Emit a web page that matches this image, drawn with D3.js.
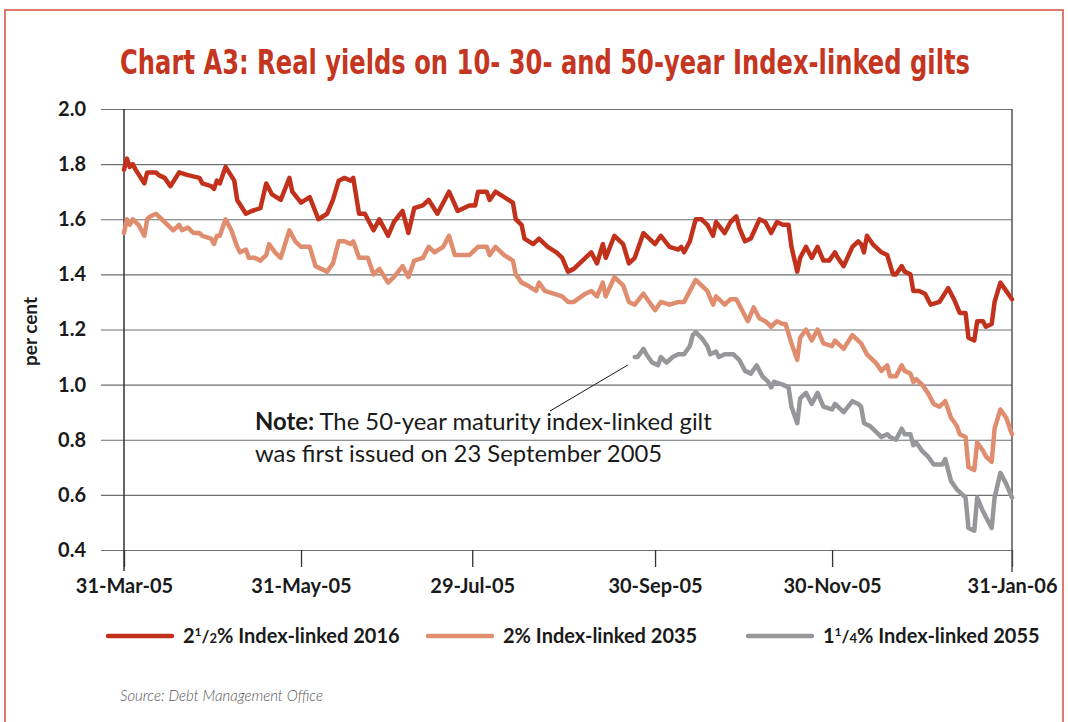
<!DOCTYPE html>
<html>
<head>
<meta charset="utf-8">
<script src="https://cdn.jsdelivr.net/npm/d3@7"></script>
<style>
    body { margin: 0; background: #fff; }
    svg text { font-family: Lato, "Open Sans", sans-serif; fill: #1a1a1a; }
</style>
</head>
<body>
<svg id="chart"></svg>
<script>
// 2 1/2% Index-linked 2016
const il2016Dates = ["2005-03-31","2005-04-01","2005-04-02","2005-04-03","2005-04-04","2005-04-07","2005-04-08","2005-04-11","2005-04-12","2005-04-14",
    "2005-04-16","2005-04-19","2005-04-22","2005-04-26","2005-04-27","2005-04-30","2005-05-01","2005-05-02","2005-05-03","2005-05-05",
    "2005-05-08","2005-05-09","2005-05-12","2005-05-14","2005-05-17","2005-05-19","2005-05-21","2005-05-24","2005-05-27","2005-05-28",
    "2005-05-31","2005-06-03","2005-06-06","2005-06-09","2005-06-11","2005-06-13","2005-06-15","2005-06-17","2005-06-18","2005-06-20",
    "2005-06-22","2005-06-25","2005-06-27","2005-06-30","2005-07-02","2005-07-05","2005-07-07","2005-07-09","2005-07-12","2005-07-14",
    "2005-07-17","2005-07-19","2005-07-21","2005-07-24","2005-07-26","2005-07-28","2005-07-30","2005-07-31","2005-08-03","2005-08-04",
    "2005-08-06","2005-08-09","2005-08-12","2005-08-13","2005-08-15","2005-08-16","2005-08-19","2005-08-21","2005-08-24","2005-08-27",
    "2005-08-29","2005-08-31","2005-09-02","2005-09-06","2005-09-08","2005-09-10","2005-09-12","2005-09-13","2005-09-16","2005-09-19",
    "2005-09-21","2005-09-23","2005-09-26","2005-09-28","2005-09-30","2005-10-02","2005-10-05","2005-10-08","2005-10-09","2005-10-10",
    "2005-10-12","2005-10-14","2005-10-16","2005-10-18","2005-10-20","2005-10-21","2005-10-24","2005-10-26","2005-10-28","2005-10-29",
    "2005-10-31","2005-11-02","2005-11-05","2005-11-07","2005-11-09","2005-11-11","2005-11-13","2005-11-15","2005-11-16","2005-11-18",
    "2005-11-19","2005-11-21","2005-11-23","2005-11-25","2005-11-27","2005-11-29","2005-12-01","2005-12-02","2005-12-04","2005-12-07",
    "2005-12-08","2005-12-09","2005-12-10","2005-12-11","2005-12-12","2005-12-14","2005-12-17","2005-12-19","2005-12-21","2005-12-22",
    "2005-12-24","2005-12-25","2005-12-27","2005-12-28","2005-12-30","2006-01-01","2006-01-03","2006-01-06","2006-01-09","2006-01-11",
    "2006-01-13","2006-01-15","2006-01-16","2006-01-18","2006-01-19","2006-01-21","2006-01-22","2006-01-24","2006-01-25","2006-01-27",
    "2006-01-29","2006-01-31"];
const il2016Yields = [1.78,1.82,1.79,1.80,1.78,1.73,1.77,1.77,1.76,1.75,
    1.72,1.77,1.76,1.75,1.73,1.72,1.71,1.74,1.73,1.79,
    1.74,1.67,1.62,1.63,1.64,1.73,1.69,1.67,1.75,1.70,
    1.66,1.68,1.60,1.62,1.67,1.74,1.75,1.74,1.75,1.62,
    1.62,1.56,1.60,1.54,1.59,1.63,1.55,1.64,1.65,1.67,
    1.62,1.66,1.70,1.63,1.64,1.65,1.65,1.70,1.70,1.67,
    1.70,1.68,1.66,1.60,1.58,1.53,1.51,1.53,1.50,1.48,
    1.46,1.41,1.42,1.46,1.48,1.44,1.51,1.46,1.54,1.51,
    1.44,1.46,1.55,1.53,1.51,1.54,1.50,1.49,1.50,1.48,
    1.52,1.60,1.60,1.58,1.54,1.59,1.55,1.59,1.61,1.57,
    1.52,1.53,1.60,1.59,1.55,1.59,1.58,1.58,1.50,1.41,
    1.46,1.50,1.46,1.50,1.45,1.45,1.48,1.46,1.43,1.50,
    1.51,1.52,1.51,1.48,1.54,1.51,1.48,1.47,1.40,1.40,
    1.43,1.41,1.40,1.34,1.34,1.33,1.29,1.30,1.35,1.31,
    1.26,1.26,1.17,1.16,1.23,1.23,1.21,1.22,1.30,1.37,
    1.34,1.31];

// 2% Index-linked 2035
const il2035Dates = ["2005-03-31","2005-04-01","2005-04-02","2005-04-03","2005-04-05","2005-04-07","2005-04-08","2005-04-09","2005-04-11","2005-04-13",
    "2005-04-15","2005-04-17","2005-04-19","2005-04-20","2005-04-22","2005-04-24","2005-04-26","2005-04-27","2005-04-30","2005-05-01",
    "2005-05-02","2005-05-03","2005-05-05","2005-05-07","2005-05-09","2005-05-10","2005-05-12","2005-05-13","2005-05-15","2005-05-17",
    "2005-05-19","2005-05-20","2005-05-22","2005-05-24","2005-05-27","2005-05-29","2005-05-31","2005-06-03","2005-06-05","2005-06-07",
    "2005-06-09","2005-06-11","2005-06-13","2005-06-15","2005-06-17","2005-06-18","2005-06-20","2005-06-23","2005-06-25","2005-06-27",
    "2005-06-30","2005-07-02","2005-07-05","2005-07-07","2005-07-09","2005-07-12","2005-07-14","2005-07-16","2005-07-19","2005-07-21",
    "2005-07-23","2005-07-26","2005-07-28","2005-07-31","2005-08-03","2005-08-04","2005-08-06","2005-08-09","2005-08-12","2005-08-13",
    "2005-08-15","2005-08-17","2005-08-20","2005-08-21","2005-08-23","2005-08-26","2005-08-29","2005-08-31","2005-09-02","2005-09-06",
    "2005-09-08","2005-09-10","2005-09-12","2005-09-13","2005-09-16","2005-09-19","2005-09-21","2005-09-23","2005-09-26","2005-09-28",
    "2005-09-30","2005-10-02","2005-10-05","2005-10-08","2005-10-10","2005-10-12","2005-10-14","2005-10-16","2005-10-18","2005-10-20",
    "2005-10-21","2005-10-24","2005-10-26","2005-10-28","2005-10-31","2005-11-01","2005-11-03","2005-11-05","2005-11-07","2005-11-09",
    "2005-11-11","2005-11-13","2005-11-14","2005-11-16","2005-11-18","2005-11-19","2005-11-21","2005-11-23","2005-11-25","2005-11-27",
    "2005-11-30","2005-12-01","2005-12-02","2005-12-04","2005-12-07","2005-12-09","2005-12-10","2005-12-12","2005-12-13","2005-12-15",
    "2005-12-17","2005-12-19","2005-12-20","2005-12-22","2005-12-24","2005-12-25","2005-12-27","2005-12-28","2005-12-29","2005-12-31",
    "2006-01-02","2006-01-04","2006-01-06","2006-01-08","2006-01-10","2006-01-12","2006-01-13","2006-01-15","2006-01-16","2006-01-18",
    "2006-01-19","2006-01-21","2006-01-22","2006-01-24","2006-01-25","2006-01-27","2006-01-29","2006-01-31"];
const il2035Yields = [1.55,1.60,1.58,1.60,1.58,1.54,1.60,1.61,1.62,1.60,
    1.58,1.56,1.58,1.56,1.57,1.55,1.55,1.54,1.53,1.51,
    1.54,1.54,1.60,1.56,1.50,1.48,1.49,1.46,1.46,1.45,
    1.47,1.51,1.48,1.46,1.56,1.52,1.50,1.50,1.43,1.42,
    1.41,1.44,1.52,1.52,1.51,1.52,1.46,1.46,1.40,1.42,
    1.37,1.39,1.43,1.39,1.45,1.46,1.50,1.48,1.50,1.54,
    1.47,1.47,1.47,1.50,1.50,1.47,1.50,1.47,1.45,1.40,
    1.37,1.36,1.34,1.37,1.34,1.33,1.32,1.30,1.30,1.33,
    1.34,1.32,1.37,1.32,1.39,1.36,1.30,1.29,1.33,1.30,
    1.27,1.30,1.29,1.30,1.30,1.34,1.38,1.36,1.34,1.29,
    1.32,1.29,1.31,1.31,1.25,1.23,1.28,1.24,1.23,1.21,
    1.23,1.22,1.22,1.15,1.09,1.17,1.20,1.16,1.20,1.15,
    1.14,1.16,1.15,1.13,1.18,1.16,1.15,1.11,1.10,1.08,
    1.05,1.07,1.03,1.03,1.07,1.05,1.04,1.01,1.02,1.00,
    0.97,0.93,0.92,0.94,0.88,0.85,0.82,0.81,0.70,0.69,
    0.79,0.76,0.74,0.72,0.84,0.91,0.88,0.82];

// 1 1/4% Index-linked 2055 (first issued 23 September 2005)
const il2055Dates = ["2005-09-23","2005-09-24","2005-09-26","2005-09-27","2005-09-29","2005-10-01","2005-10-02","2005-10-04","2005-10-06","2005-10-08",
    "2005-10-10","2005-10-12","2005-10-13","2005-10-14","2005-10-16","2005-10-18","2005-10-19","2005-10-21","2005-10-22","2005-10-24",
    "2005-10-27","2005-10-29","2005-10-31","2005-11-02","2005-11-04","2005-11-06","2005-11-08","2005-11-09","2005-11-10","2005-11-13",
    "2005-11-15","2005-11-16","2005-11-18","2005-11-19","2005-11-21","2005-11-23","2005-11-25","2005-11-27","2005-11-30","2005-12-01",
    "2005-12-02","2005-12-04","2005-12-07","2005-12-09","2005-12-10","2005-12-11","2005-12-13","2005-12-15","2005-12-17","2005-12-19",
    "2005-12-20","2005-12-22","2005-12-24","2005-12-25","2005-12-27","2005-12-28","2005-12-29","2005-12-31","2006-01-02","2006-01-04",
    "2006-01-07","2006-01-08","2006-01-10","2006-01-12","2006-01-14","2006-01-15","2006-01-16","2006-01-18","2006-01-19","2006-01-21",
    "2006-01-23","2006-01-24","2006-01-25","2006-01-27","2006-01-29","2006-01-31"];
const il2055Yields = [1.10,1.10,1.13,1.11,1.08,1.07,1.10,1.08,1.10,1.11,
    1.11,1.14,1.18,1.19,1.17,1.14,1.11,1.12,1.10,1.11,
    1.11,1.09,1.05,1.04,1.07,1.03,1.01,0.99,1.01,1.00,
    0.99,0.92,0.86,0.95,0.97,0.93,0.97,0.92,0.91,0.93,
    0.92,0.90,0.94,0.93,0.92,0.86,0.85,0.83,0.81,0.82,
    0.81,0.80,0.84,0.82,0.82,0.78,0.79,0.76,0.74,0.71,
    0.71,0.73,0.65,0.62,0.60,0.59,0.48,0.47,0.59,0.54,
    0.50,0.48,0.59,0.68,0.64,0.59];

const seriesNames = ["2\u00bd% Index-linked 2016", "2% Index-linked 2035", "1\u00bc% Index-linked 2055"];
const seriesColors = ["#c1311c", "#e08d6f", "#96979a"];
const xTickLabels = ["2005-03-31", "2005-05-31", "2005-07-29", "2005-09-30", "2005-11-30", "2006-01-31"];
const yTickValues = [0.4, 0.6, 0.8, 1.0, 1.2, 1.4, 1.6, 1.8, 2.0];

const parseDate = d3.timeParse("%Y-%m-%d");

function zipSeries(dates, values) {
    return dates.map((d, i) => ({ date: parseDate(d), value: values[i] }));
}

const allSeries = [
    zipSeries(il2016Dates, il2016Yields),
    zipSeries(il2035Dates, il2035Yields),
    zipSeries(il2055Dates, il2055Yields)
];

drawChart(allSeries);

// shrink or grow a text's font size until it is about `target` px wide
function fitWidth(sel, target, startSize) {
    sel.style('font-size', startSize + 'px');
    var w = sel.node().getComputedTextLength();
    if (w > 0) sel.style('font-size', (startSize * target / w).toFixed(2) + 'px');
}

function drawChart(series) {
    var svgWidth = 1068, svgHeight = 722;
    var margin = { top: 109, right: 56, bottom: 172, left: 124 };
    var width = svgWidth - margin.left - margin.right;
    var height = svgHeight - margin.top - margin.bottom;

    var svg = d3.select('#chart')
        .attr('width', svgWidth)
        .attr('height', svgHeight);

    // red frame round the whole panel (runs off the bottom)
    svg.append('rect')
        .attr('x', 5).attr('y', 10)
        .attr('width', 1058).attr('height', 740)
        .attr('fill', 'none')
        .attr('stroke', '#d2503a')
        .attr('stroke-width', 1.5);

    // condensed title: set tall, then squeeze sideways to the width it has in print
    var title = svg.append('text')
        .attr('text-anchor', 'middle')
        .style('font-family', '"DejaVu Sans Condensed", "Liberation Sans Narrow", sans-serif')
        .style('font-weight', 'bold')
        .style('font-size', '33px')
        .style('fill', '#c4361f')
        .text('Chart A3: Real yields on 10- 30- and 50-year Index-linked gilts');
    var tw = title.node().getComputedTextLength();
    title.attr('transform', 'translate(545,74) scale(' + (850 / tw).toFixed(4) + ',1)');

    var g = svg.append('g')
        .attr('transform', 'translate(' + margin.left + ',' + margin.top + ')');

    var x = d3.scaleTime()
        .domain([parseDate(xTickLabels[0]), parseDate(xTickLabels[xTickLabels.length - 1])])
        .range([0, width]);

    var y = d3.scaleLinear()
        .domain([0.4, 2.0])
        .range([height, 0]);

    // horizontal grid + y labels
    var yAxis = g.append('g')
        .attr('transform', 'translate(-23,0)')
        .call(d3.axisLeft(y)
            .tickValues(yTickValues)
            .tickSize(-(width + 23))
            .tickPadding(15)
            .tickFormat(d3.format('.1f')));
    yAxis.select('.domain').remove();
    yAxis.selectAll('line').attr('stroke', '#6d6e71').attr('stroke-width', 1.2);
    yAxis.selectAll('text')
        .style('font-size', '20px')
        .style('font-weight', 'bold')
        .style('fill', '#1a1a1a');

    // x axis
    var xAxis = g.append('g')
        .attr('transform', 'translate(0,' + height + ')')
        .call(d3.axisBottom(x)
            .tickValues(xTickLabels.map(parseDate))
            .tickSize(17)
            .tickPadding(12)
            .tickFormat(d3.timeFormat('%d-%b-%y')));
    xAxis.select('.domain').remove();
    xAxis.selectAll('line').attr('stroke', '#333').attr('stroke-width', 1.3);
    xAxis.selectAll('text')
        .style('font-size', '20px')
        .style('font-weight', 'bold')
        .style('fill', '#1a1a1a');

    // vertical frame lines at the two ends of the date range
    g.append('line')
        .attr('x1', x.range()[0]).attr('x2', x.range()[0])
        .attr('y1', 0).attr('y2', height + 21)
        .attr('stroke', '#333').attr('stroke-width', 1.5);
    g.append('line')
        .attr('x1', x.range()[1]).attr('x2', x.range()[1])
        .attr('y1', 0).attr('y2', height + 22)
        .attr('stroke', '#555').attr('stroke-width', 1.5);

    g.append('text')
        .attr('transform', 'translate(-87,' + (y(1.2) + 2) + ') rotate(-90)')
        .attr('text-anchor', 'middle')
        .style('font-size', '19px')
        .style('font-weight', 'bold')
        .text('per cent');

    var line = d3.line()
        .x((d) => { return x(d.date) })
        .y((d) => { return y(d.value) });

    series.forEach((s, i) => {
        g.append('path')
            .datum(s)
            .attr('fill', 'none')
            .attr('stroke', seriesColors[i])
            .attr('stroke-linejoin', 'round')
            .attr('stroke-linecap', 'round')
            .attr('stroke-width', 4.5)
            .attr('d', line);
    });

    // note with leader line to the start of the 2055 series
    var first55 = series[2][0];
    g.append('line')
        .attr('x1', 426).attr('y1', 302)
        .attr('x2', x(first55.date) - 7).attr('y2', y(first55.value) + 8)
        .attr('stroke', '#1a1a1a').attr('stroke-width', 1);

    var note = g.append('g');
    var n1 = note.append('text').attr('x', 131).attr('y', 321);
    n1.append('tspan').style('font-weight', 'bold').text('Note:');
    n1.append('tspan').text(' The 50-year maturity index-linked gilt');
    fitWidth(n1, 457, 20);
    var n2 = note.append('text').attr('x', 131).attr('y', 353)
        .text('was first issued on 23 September 2005');
    n2.style('font-size', n1.style('font-size'));

    // legend
    var legendX = [108, 428, 748];
    var legend = svg.append('g').attr('transform', 'translate(0,636)');
    seriesNames.forEach((name, i) => {
        var item = legend.append('g').attr('transform', 'translate(' + legendX[i] + ',0)');
        item.append('line')
            .attr('x1', 0).attr('x2', 64)
            .attr('stroke', seriesColors[i])
            .attr('stroke-width', 4.5)
            .attr('stroke-linecap', 'round');
        var t = item.append('text')
            .attr('x', 75).attr('y', 7)
            .style('font-size', '20px')
            .style('font-weight', 'bold');
        // write the fractions as small superscript/subscript figures
        var m = name.match(/^(\d)([\u00bd\u00bc]?)(.*)$/);
        t.append('tspan').text(m[1]);
        if (m[2]) {
            var parts = m[2] === '\u00bd' ? ['1', '2'] : ['1', '4'];
            t.append('tspan').attr('dy', -7).style('font-size', '12px').text(parts[0]);
            t.append('tspan').attr('dy', 7).style('font-size', '17px').text('/');
            t.append('tspan').style('font-size', '13px').text(parts[1]);
        }
        t.append('tspan').text(m[3]);
    });

    svg.append('text')
        .attr('x', 120).attr('y', 701)
        .style('font-size', '15px')
        .style('font-style', 'italic')
        .style('font-weight', 300)
        .style('fill', '#555')
        .text('Source: Debt Management Office');
}
</script>
</body>
</html>
